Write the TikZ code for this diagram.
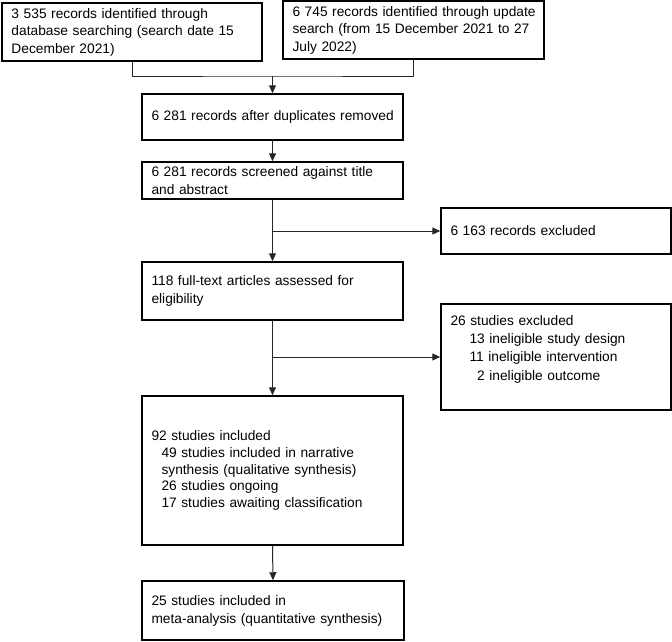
\documentclass[tikz,border=0pt]{standalone}
\usepackage{fontspec}
\setmainfont{Liberation Sans}
\usetikzlibrary{arrows.meta,positioning}
\begin{document}
\begin{tikzpicture}[x=1pt,y=-1pt,
  flowbox/.style={draw=black,line width=1.5pt,rectangle,align=left,inner xsep=9.5pt,inner ysep=0pt,
    font=\fontsize{13.75}{17.5}\selectfont,anchor=center},
  conn/.style={draw=black!85,line width=1pt},
  arr/.style={conn,-{Triangle[length=8pt,width=7pt]}}]
\useasboundingbox (0,0) rectangle (672,641);
% boxes: centre, width, height
\node[flowbox,text width=241pt,minimum width=260pt,minimum height=58pt] (A) at (132,32)
  {\mbox{3 535 records identified through}\\\mbox{database searching (search date 15}\\December 2021)};
\node[flowbox,text width=242pt,minimum width=261pt,minimum height=58pt] (B) at (413.5,30)
  {\mbox{6 745 records identified through update}\\\mbox{search (from 15 December 2021 to 27}\\July 2022)};
\node[flowbox,text width=242pt,minimum width=261pt,minimum height=46pt] (C) at (272.5,117)
  {\mbox{6 281 records after duplicates removed}};
\node[flowbox,text width=242pt,minimum width=261pt,minimum height=37pt] (D) at (272.5,180.5)
  {\mbox{6 281 records screened against title}\\and abstract};
\node[flowbox,text width=211pt,minimum width=230pt,minimum height=46pt] (F) at (556,231)
  {6 163 records excluded};
\node[flowbox,text width=242pt,minimum width=261pt,minimum height=58pt] (E) at (272.5,291)
  {118 full-text articles assessed for\\eligibility};
\node[flowbox,text width=211pt,minimum width=230pt,minimum height=106pt,font=\fontsize{13.75}{18.3}\selectfont] (H) at (556,357)
  {26 studies excluded\\\hspace*{19pt}13 ineligible study design\\\hspace*{19pt}11 ineligible intervention\\\hspace*{19pt}\phantom{1}2 ineligible outcome\\\mbox{}};
\node[flowbox,text width=242pt,minimum width=261pt,minimum height=149pt,font=\fontsize{13.75}{16.8}\selectfont] (G) at (272.5,470.5)
  {92 studies included\\\hspace*{10pt}49 studies included in narrative\\\hspace*{10pt}synthesis (qualitative synthesis)\\\hspace*{10pt}26 studies ongoing\\\hspace*{10pt}\mbox{17 studies awaiting classification}};
\node[flowbox,text width=243pt,minimum width=262pt,minimum height=59pt,font=\fontsize{13.75}{18}\selectfont] (I) at (273,610.5)
  {25 studies included in\\\mbox{meta-analysis (quantitative synthesis)}};
% connectors
\coordinate (m) at (272.5,76);
\draw[conn] (A.south) |- (m) -| (B.south);
\draw[arr] (m) -- (C.north);
\draw[arr] (C.south) -- (D.north);
\draw[arr] (D.south) -- (E.north);
\draw[arr] (D.south |- F.west) -- (F.west);
\draw[arr] (E.south) -- (G.north);
\draw[arr] (E.south |- H.west) -- (H.west);
\draw[arr] (G.south) -- (I.north);
\end{tikzpicture}
\end{document}
